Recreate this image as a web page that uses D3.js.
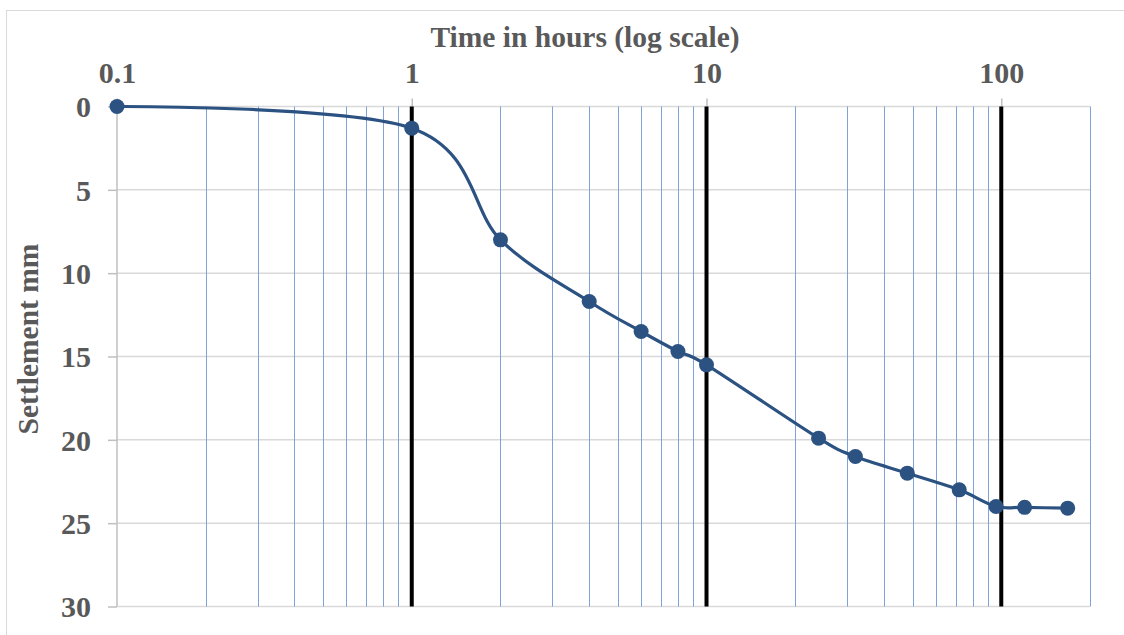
<!DOCTYPE html>
<html>
<head>
<meta charset="utf-8">
<script src="https://cdn.jsdelivr.net/npm/d3@7"></script>
<style>
  body { margin: 0; background: #fff; }
  svg text { font-family: "Liberation Serif", "Times New Roman", serif; font-weight: bold; fill: #595959; }
</style>
</head>
<body>
<svg id="chart" width="1124" height="635"></svg>
<script>
// settlement readings
const hours = [0.1, 1, 2, 4, 6, 8, 10, 24, 32, 48, 72, 96, 120, 168];
const settlement = [0, 1.3, 8, 11.7, 13.5, 14.7, 15.5, 19.9, 21, 22, 23, 24, 24.05, 24.1];

const xTicks = [0.1, 1, 10, 100];
const majorLines = [1, 10, 100];
const minorLines = [0.2, 0.3, 0.4, 0.5, 0.6, 0.7, 0.8, 0.9,
  2, 3, 4, 5, 6, 7, 8, 9,
  20, 30, 40, 50, 60, 70, 80, 90, 200];
const yTicks = [0, 5, 10, 15, 20, 25, 30];

const svg = d3.select("#chart");

// outer frame (only top & left show in the crop)
svg.append("rect")
  .attr("x", 6.5).attr("y", 10.5)
  .attr("width", 1200).attr("height", 700)
  .attr("fill", "none")
  .attr("stroke", "#d9d9d9");

const x = d3.scaleLog().domain([0.1, 200]).range([117, 1090]);
const y = d3.scaleLinear().domain([0, 30]).range([106.5, 606.5]);

// horizontal grid
svg.append("g").selectAll("line")
  .data(yTicks)
  .enter().append("line")
  .attr("x1", x(0.1)).attr("x2", x(200))
  .attr("y1", d => y(d)).attr("y2", d => y(d))
  .attr("stroke", "#d9d9d9")
  .attr("stroke-width", 1.5);

// minor vertical grid
svg.append("g").selectAll("line")
  .data(minorLines)
  .enter().append("line")
  .attr("x1", d => Math.round(x(d)) + 0.5).attr("x2", d => Math.round(x(d)) + 0.5)
  .attr("y1", y(0)).attr("y2", y(30))
  .attr("stroke", "#7fa2da")
  .attr("stroke-width", 1);

// left axis
svg.append("line")
  .attr("x1", x(0.1)).attr("x2", x(0.1))
  .attr("y1", y(0)).attr("y2", y(30))
  .attr("stroke", "#bfbfbf")
  .attr("stroke-width", 1.5);

// y axis ticks + labels
const yAxis = d3.axisLeft(y).tickValues(yTicks).tickSize(9).tickPadding(17);
const gy = svg.append("g")
  .attr("transform", `translate(${x(0.1)},0)`)
  .call(yAxis);
gy.select(".domain").remove();
gy.selectAll(".tick line").attr("stroke", "#bfbfbf").attr("stroke-width", 1.5);
gy.selectAll(".tick text").style("font-size", "30px").attr("dy", "0.34em");

// top axis ticks + labels
const xAxis = d3.axisTop(x).tickValues(xTicks).tickFormat(d3.format("")).tickSize(8).tickPadding(16);
const gx = svg.append("g")
  .attr("transform", `translate(0,${y(0)})`)
  .call(xAxis);
gx.select(".domain").remove();
gx.selectAll(".tick line").attr("stroke", "#bfbfbf").attr("stroke-width", 1.5);
gx.selectAll(".tick text").style("font-size", "30px");

// heavy decade lines
svg.append("g").selectAll("line")
  .data(majorLines)
  .enter().append("line")
  .attr("x1", d => x(d)).attr("x2", d => x(d))
  .attr("y1", y(0)).attr("y2", y(30))
  .attr("stroke", "#000")
  .attr("stroke-width", 4);

// titles
svg.append("text")
  .attr("x", 585).attr("y", 47)
  .attr("text-anchor", "middle")
  .style("font-size", "29.5px")
  .text("Time in hours (log scale)");

svg.append("text")
  .attr("transform", "translate(38,339) rotate(-90)")
  .attr("text-anchor", "middle")
  .style("font-size", "29.5px")
  .text("Settlement mm");

// series
const points = hours.map((h, i) => ({ h: h, s: settlement[i] }));

const line = d3.line()
  .x(d => x(d.h))
  .y(d => y(d.s))
  .curve(d3.curveCatmullRom.alpha(0));

svg.append("path")
  .datum(points)
  .attr("d", line)
  .attr("fill", "none")
  .attr("stroke", "#2c5282")
  .attr("stroke-width", 3.2);

svg.append("g").selectAll("circle")
  .data(points)
  .enter().append("circle")
  .attr("cx", d => x(d.h))
  .attr("cy", d => y(d.s))
  .attr("r", 7.5)
  .attr("fill", "#2c5282");
</script>
</body>
</html>
